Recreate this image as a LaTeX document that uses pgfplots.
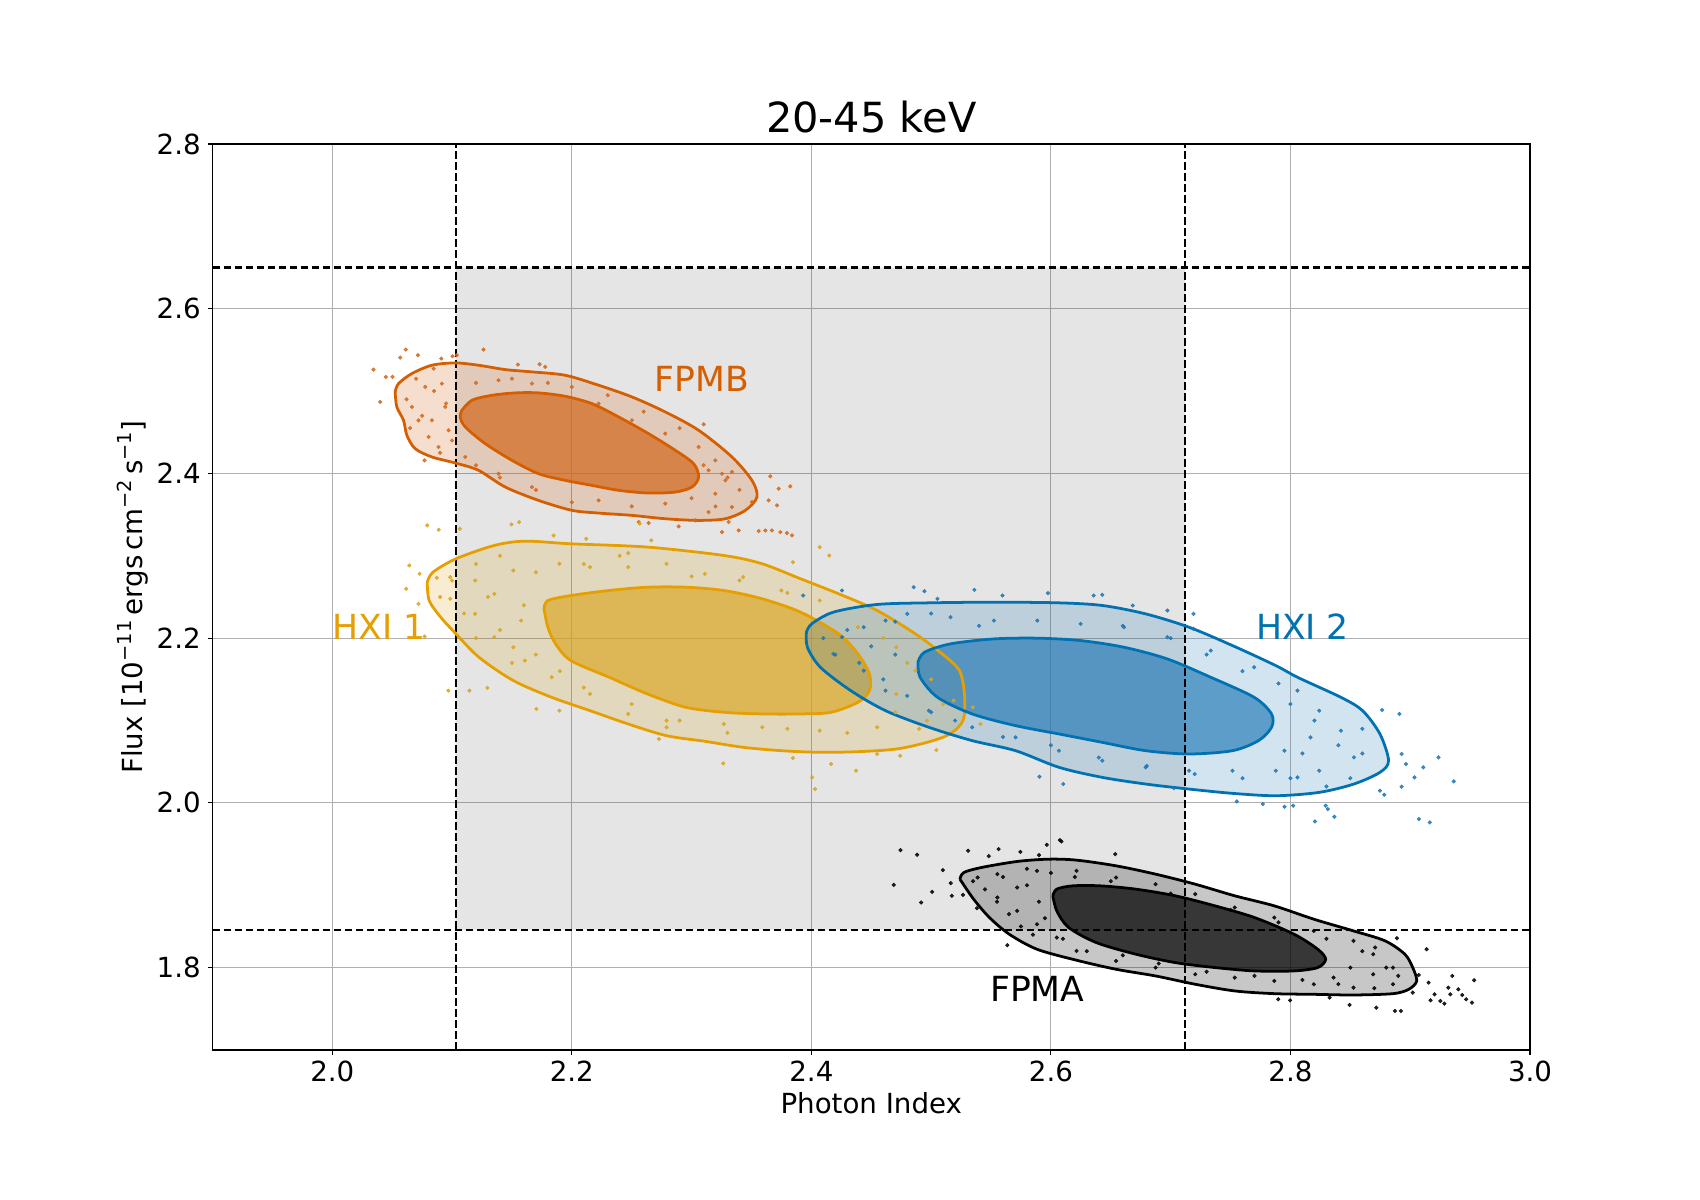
\documentclass[border=0pt]{standalone}
\usepackage{fontspec}
\setmainfont{DejaVu Sans}
\usepackage{pgfplots}
\usepackage{pgfplotstable}
\pgfplotsset{compat=1.18}
\definecolor{cFPMB}{HTML}{D55E00}
\definecolor{cHXIa}{HTML}{E69F00}
\definecolor{cHXIb}{HTML}{0072B2}
\definecolor{sFPMB}{HTML}{D2691E}
\definecolor{sHXIa}{HTML}{DAA520}
\definecolor{sHXIb}{HTML}{1F77B4}
\definecolor{gridgray}{HTML}{B0B0B0}

% ---------------- FPMB ----------------
\pgfplotstableread{
x y
2.0525 2.4990
2.0553 2.5091
2.0665 2.5213
2.0832 2.5314
2.1027 2.5342
2.1221 2.5314
2.1444 2.5261
2.1667 2.5233
2.1945 2.5192
2.2224 2.5071
2.2502 2.4929
2.2780 2.4747
2.3059 2.4524
2.3337 2.4200
2.3504 2.3916
2.3546 2.3714
2.3449 2.3552
2.3282 2.3450
2.3059 2.3430
2.2780 2.3450
2.2502 2.3491
2.2224 2.3519
2.2001 2.3552
2.1722 2.3673
2.1444 2.3835
2.1221 2.4038
2.1027 2.4127
2.0832 2.4200
2.0692 2.4301
2.0623 2.4463
2.0595 2.4645
2.0539 2.4808
2.0525 2.4990
}\fpmbOuter
\pgfplotstableread{
x y
2.1082 2.4767
2.1166 2.4889
2.1333 2.4949
2.1528 2.4978
2.1722 2.4978
2.1945 2.4937
2.2168 2.4848
2.2391 2.4686
2.2641 2.4483
2.2864 2.4281
2.3017 2.4119
2.3059 2.3957
2.3003 2.3835
2.2864 2.3774
2.2641 2.3762
2.2391 2.3795
2.2168 2.3855
2.1945 2.3916
2.1722 2.3997
2.1500 2.4159
2.1277 2.4362
2.1110 2.4564
2.1068 2.4686
2.1082 2.4767
}\fpmbInner
\pgfplotstableread{
x y
2.0344 2.5261
2.0400 2.4868
2.0447 2.5172
2.0503 2.5172
2.0567 2.5407
2.0614 2.5504
2.0715 2.5436
2.0770 2.4159
2.0846 2.5273
2.0910 2.5395
2.1004 2.5423
2.1040 2.5436
2.1263 2.5504
2.1550 2.5322
2.1731 2.5326
2.1778 2.5294
2.3101 2.4597
2.3142 2.4038
2.3254 2.3997
2.3337 2.4018
2.3657 2.3965
2.3727 2.3815
2.3824 2.3843
2.3309 2.3410
2.3393 2.3308
2.3254 2.3288
2.3560 2.3300
2.3616 2.3308
2.3671 2.3308
2.3741 2.3288
2.3796 2.3276
2.3838 2.3248
2.2558 2.3410
2.2641 2.3398
2.2892 2.3357
2.3031 2.3430
2.3142 2.3531
2.3337 2.3592
2.3504 2.3653
2.3643 2.3673
2.3713 2.3612
2.0665 2.4808
2.0720 2.4645
2.0804 2.4443
2.0887 2.4321
2.0943 2.4808
2.0915 2.5091
2.0776 2.5051
2.0832 2.4645
2.0971 2.4524
2.1388 2.5132
2.1667 2.5091
2.2224 2.4848
2.2502 2.4645
2.2780 2.4483
2.3059 2.4321
2.3198 2.4159
2.3282 2.3916
2.3198 2.3754
2.2780 2.3633
2.2224 2.3673
2.1667 2.3835
2.1388 2.3997
2.1110 2.4200
2.062 2.490
2.070 2.515
2.085 2.500
2.095 2.485
2.100 2.440
2.090 2.425
2.075 2.470
2.065 2.455
2.120 2.510
2.150 2.515
2.180 2.510
2.200 2.505
2.230 2.495
2.260 2.475
2.290 2.455
2.310 2.410
2.330 2.395
2.340 2.380
2.320 2.360
2.300 2.370
2.250 2.360
2.200 2.365
2.170 2.380
2.140 2.395
2.120 2.410
}\fpmbDots

% ---------------- HXI 1 ----------------
\pgfplotstableread{
x y
2.0793 2.2680
2.0841 2.2802
2.1033 2.2964
2.1353 2.3126
2.1608 2.3178
2.1992 2.3146
2.2631 2.3106
2.3270 2.3004
2.3590 2.2903
2.3910 2.2721
2.4229 2.2538
2.4549 2.2336
2.4869 2.2052
2.5092 2.1809
2.5236 2.1607
2.5278 2.1323
2.5268 2.1009
2.5157 2.0837
2.4965 2.0735
2.4709 2.0654
2.4389 2.0622
2.4070 2.0614
2.3750 2.0634
2.3430 2.0675
2.3111 2.0748
2.2791 2.0816
2.2471 2.0958
2.2152 2.1120
2.1832 2.1282
2.1512 2.1485
2.1225 2.1768
2.1033 2.2052
2.0905 2.2255
2.0809 2.2457
2.0793 2.2680
}\hxiaOuter
\pgfplotstableread{
x y
2.1768 2.2356
2.1800 2.2457
2.1992 2.2518
2.2311 2.2579
2.2631 2.2619
2.2951 2.2619
2.3270 2.2579
2.3590 2.2478
2.3910 2.2316
2.4229 2.2052
2.4389 2.1809
2.4485 2.1566
2.4485 2.1364
2.4389 2.1222
2.4165 2.1100
2.3910 2.1080
2.3590 2.1080
2.3270 2.1100
2.2951 2.1161
2.2631 2.1323
2.2311 2.1526
2.1992 2.1728
2.1864 2.1931
2.1800 2.2133
2.1768 2.2356
}\hxiaInner
\pgfplotstableread{
x y
2.0617 2.2599
2.0643 2.2883
2.0729 2.2781
2.0720 2.2417
2.0771 2.2020
2.0873 2.2733
2.0889 2.3316
2.0793 2.3369
2.0985 2.2741
2.0985 2.2478
2.0969 2.1363
2.1065 2.3328
2.1145 2.1363
2.1295 2.1396
2.1496 2.3381
2.1560 2.3409
2.1848 2.3247
2.2120 2.3207
2.2471 2.3033
2.2567 2.3389
2.2663 2.3187
2.4070 2.3106
2.4149 2.3004
2.3846 2.2923
2.3264 2.0480
2.3846 2.0545
2.4006 2.0310
2.4031 2.0168
2.4165 2.0472
2.4373 2.0391
2.4549 2.0594
2.4741 2.0573
2.5044 2.0642
2.5412 2.0958
2.5348 2.1161
2.5188 2.1242
2.2727 2.0776
2.1896 2.1120
2.1704 2.1141
2.1193 2.2700
2.1353 2.2538
2.1512 2.2822
2.1576 2.2214
2.1353 2.2012
2.1193 2.2295
2.1608 2.1728
2.1512 2.1890
2.1896 2.2903
2.2152 2.2863
2.2471 2.2863
2.2791 2.2903
2.3111 2.2781
2.3430 2.2741
2.3750 2.2579
2.4070 2.2457
2.4389 2.2133
2.4709 2.1890
2.4869 2.1607
2.4709 2.1323
2.4965 2.0999
2.4549 2.0918
2.4070 2.0877
2.3590 2.0918
2.3270 2.0958
2.2791 2.0999
2.2471 2.1080
2.2152 2.1323
2.1832 2.1526
2.2791 2.0918
2.090 2.250
2.100 2.270
2.110 2.230
2.120 2.200
2.130 2.250
2.140 2.210
2.150 2.170
2.160 2.240
2.170 2.180
2.120 2.290
2.140 2.300
2.170 2.280
2.210 2.290
2.240 2.300
2.300 2.275
2.340 2.270
2.380 2.255
2.460 2.200
2.480 2.170
2.500 2.150
2.510 2.120
2.470 2.110
2.490 2.090
2.430 2.085
2.380 2.090
2.330 2.085
2.290 2.100
2.250 2.120
2.210 2.140
2.190 2.160
}\hxiaDots

% ---------------- HXI 2 ----------------
\pgfplotstableread{
x y
2.3959 2.2072
2.4003 2.2174
2.4184 2.2316
2.4546 2.2409
2.4981 2.2429
2.5524 2.2437
2.6067 2.2429
2.6429 2.2397
2.6791 2.2295
2.7153 2.2133
2.7516 2.1910
2.7878 2.1667
2.8059 2.1525
2.8421 2.1282
2.8602 2.1120
2.8747 2.0837
2.8819 2.0513
2.8747 2.0371
2.8529 2.0229
2.8240 2.0128
2.7878 2.0087
2.7516 2.0116
2.7153 2.0168
2.6791 2.0229
2.6429 2.0310
2.6067 2.0432
2.5705 2.0634
2.5343 2.0756
2.4981 2.0918
2.4619 2.1120
2.4329 2.1363
2.4075 2.1647
2.3967 2.1890
2.3959 2.2072
}\hxibOuter
\pgfplotstableread{
x y
2.4890 2.1708
2.4944 2.1829
2.5162 2.1931
2.5524 2.1991
2.5886 2.2000
2.6248 2.1971
2.6610 2.1890
2.6972 2.1748
2.7335 2.1525
2.7697 2.1282
2.7842 2.1080
2.7842 2.0918
2.7733 2.0756
2.7516 2.0634
2.7153 2.0594
2.6791 2.0634
2.6429 2.0735
2.6067 2.0837
2.5705 2.0938
2.5343 2.1080
2.5053 2.1282
2.4908 2.1525
2.4890 2.1708
}\hxibInner
\pgfplotstableread{
x y
2.3931 2.2518
2.4256 2.2579
2.4854 2.2619
2.4944 2.2571
2.5053 2.2478
2.5361 2.2587
2.5596 2.2518
2.5976 2.2547
2.6357 2.2518
2.6429 2.2526
2.6683 2.2397
2.6972 2.2336
2.7190 2.2295
2.7190 2.2113
2.8910 2.1080
2.8765 2.1128
2.8928 2.0594
2.8964 2.0472
2.9109 2.0432
2.9236 2.0553
2.9363 2.0261
2.9036 2.0310
2.8928 2.0197
2.8747 2.0148
2.8783 2.0099
2.7552 2.0018
2.7769 1.9986
2.7950 1.9953
2.8023 1.9966
2.8204 1.9775
2.8294 1.9966
2.8312 1.9925
2.8367 1.9832
2.9073 1.9804
2.9163 1.9763
2.6103 2.0229
2.5904 2.0318
2.7027 2.0180
2.4256 2.2012
2.4437 2.2133
2.4619 2.2214
2.4800 2.2295
2.5162 2.2255
2.5524 2.2214
2.5886 2.2214
2.6248 2.2174
2.6610 2.2133
2.6972 2.2012
2.7335 2.1850
2.7697 2.1647
2.8059 2.1363
2.8240 2.1120
2.8421 2.0877
2.8530 2.0553
2.8240 2.0391
2.8059 2.0310
2.7878 2.0391
2.7516 2.0391
2.7153 2.0391
2.6791 2.0432
2.6429 2.0513
2.6067 2.0634
2.5705 2.0796
2.5343 2.0918
2.4981 2.1120
2.4619 2.1363
2.4437 2.1606
2.4184 2.1809
2.8167 2.0796
2.7950 2.0634
2.410 2.200
2.420 2.180
2.430 2.210
2.440 2.170
2.450 2.190
2.460 2.150
2.470 2.180
2.480 2.130
2.470 2.220
2.500 2.230
2.540 2.215
2.660 2.215
2.700 2.200
2.730 2.180
2.760 2.160
2.790 2.145
2.800 2.120
2.820 2.100
2.840 2.070
2.860 2.060
2.850 2.030
2.830 2.020
2.800 2.030
2.860 2.090
2.810 2.060
2.760 2.030
2.720 2.035
2.680 2.045
2.640 2.055
2.600 2.070
2.560 2.080
2.520 2.100
2.500 2.110
}\hxibDots

% ---------------- FPMA ----------------
\pgfplotstableread{
x y
2.5240 1.9074
2.5273 1.9155
2.5421 1.9216
2.5718 1.9289
2.5983 1.9317
2.6214 1.9305
2.6544 1.9236
2.6874 1.9135
2.7205 1.9013
2.7535 1.8872
2.7865 1.8750
2.8195 1.8588
2.8526 1.8446
2.8790 1.8325
2.8955 1.8163
2.9021 1.8000
2.9054 1.7838
2.8988 1.7737
2.8856 1.7684
2.8526 1.7668
2.8195 1.7676
2.7865 1.7684
2.7535 1.7717
2.7205 1.7798
2.6874 1.7899
2.6544 1.7980
2.6214 1.8090
2.5884 1.8223
2.5652 1.8406
2.5487 1.8608
2.5355 1.8831
2.5240 1.9074
}\fpmaOuter
\pgfplotstableread{
x y
2.6016 1.8872
2.6049 1.8953
2.6181 1.8993
2.6412 1.8993
2.6709 1.8953
2.7039 1.8872
2.7370 1.8750
2.7700 1.8608
2.8030 1.8406
2.8228 1.8223
2.8294 1.8102
2.8228 1.8001
2.8030 1.7960
2.7700 1.7960
2.7370 1.8001
2.7039 1.8061
2.6709 1.8163
2.6379 1.8304
2.6148 1.8487
2.6049 1.8689
2.6016 1.8872
}\fpmaInner
\pgfplotstableread{
x y
2.4688 1.9005
2.4744 1.9427
2.4883 1.9370
2.4916 1.8791
2.5008 1.8920
2.5098 1.9184
2.5164 1.9026
2.5173 1.8872
2.5266 1.8884
2.5309 1.9419
2.5382 1.8722
2.5481 1.9354
2.5563 1.9439
2.5636 1.8272
2.5745 1.9406
2.5900 1.9366
2.5966 1.9491
2.6075 1.9548
2.6088 1.9532
2.6537 1.9378
2.8707 1.8244
2.8889 1.8357
2.9137 1.8223
2.9153 1.7818
2.9071 1.7911
2.9203 1.7676
2.9318 1.7757
2.9335 1.7676
2.9401 1.7737
2.9434 1.7668
2.9533 1.7847
2.9516 1.7575
2.9467 1.7616
2.9252 1.7595
2.9170 1.7603
2.9285 1.7563
2.8493 1.7547
2.8717 1.7514
2.8872 1.7474
2.8922 1.7474
2.8327 1.7636
2.7898 1.7616
2.7997 1.7603
2.9021 1.7696
2.9351 1.7899
2.5388 1.9094
2.5553 1.9135
2.5718 1.8973
2.5553 1.8851
2.5718 1.8689
2.5884 1.8527
2.5884 1.9175
2.6214 1.9175
2.6544 1.9094
2.6874 1.9013
2.7205 1.8892
2.7535 1.8730
2.7865 1.8608
2.8195 1.8446
2.8526 1.8325
2.8691 1.8163
2.8856 1.8000
2.8856 1.7798
2.8526 1.7757
2.8195 1.7798
2.7865 1.7838
2.7535 1.7879
2.7205 1.7919
2.6874 1.8000
2.6544 1.8081
2.6214 1.8203
2.6049 1.8365
2.8360 1.7879
2.8691 1.7919
2.535 1.905
2.545 1.895
2.555 1.880
2.565 1.865
2.575 1.850
2.585 1.840
2.560 1.910
2.580 1.900
2.590 1.880
2.595 1.860
2.580 1.920
2.600 1.915
2.620 1.910
2.650 1.905
2.700 1.890
2.750 1.870
2.790 1.855
2.830 1.835
2.860 1.820
2.880 1.800
2.890 1.790
2.870 1.775
2.840 1.780
2.850 1.800
2.810 1.785
2.770 1.790
2.730 1.795
2.690 1.805
2.660 1.815
2.630 1.820
2.610 1.835
}\fpmaDots

\begin{document}
\begin{tikzpicture}
\path[use as bounding box] (-2.125in,-1.5in) rectangle (14.875in,10.5in);
\begin{axis}[
  at={(0,0)}, anchor=south west,
  scale only axis, width=13.175in, height=9.06in,
  xmin=1.9, xmax=3.0, ymin=1.7, ymax=2.8,
  xtick={2.0,2.2,2.4,2.6,2.8,3.0},
  ytick={1.8,2.0,2.2,2.4,2.6,2.8},
  grid=major,
  major grid style={line width=0.8pt, color=gridgray},
  tick align=outside, tick pos=left,
  major tick length=0.049in,
  every tick/.style={black, line width=0.8pt},
  axis line style={line width=0.8pt},
  tick label style={font=\fontsize{20}{24}\selectfont,
    /pgf/number format/assume math mode=true,
    /pgf/number format/fixed, /pgf/number format/fixed zerofill,
    /pgf/number format/precision=1},
  xticklabel style={anchor=base, inner sep=0pt, yshift=-0.262in},
  yticklabel style={anchor=east, inner sep=0pt, xshift=-0.066in},
  xlabel={Photon Index},
  ylabel={Flux [10\textsuperscript{−11}\,ergs\,cm\textsuperscript{−2}\,s\textsuperscript{−1}]},
  label style={font=\fontsize{20}{24}\selectfont},
  xlabel style={at={(axis description cs:0.5,-0.0699)}, anchor=base, inner sep=0pt},
  ylabel style={at={(axis description cs:-0.0532,0.5)}, anchor=base, inner sep=0pt, rotate=0},
  title={20-45 keV},
  title style={at={(axis description cs:0.5,1.003)}, anchor=base, inner sep=0pt, yshift=0pt, font=\fontsize{30}{36}\selectfont},
  clip=true,
]
% shaded box
\addplot[draw=none, fill=black, fill opacity=0.1, mark=none] coordinates {(2.103,1.846) (2.712,1.846) (2.712,2.65) (2.103,2.65) (2.103,1.846)};

% clouds
\addplot[draw=none, fill=sFPMB, fill opacity=0.22, smooth, tension=0.5, mark=none] table {\fpmbOuter};
\addplot[draw=none, fill=sFPMB, fill opacity=0.72, smooth, tension=0.5, mark=none] table {\fpmbInner};
\addplot[only marks, mark=*, mark size=1.3pt, color=sFPMB, opacity=0.85] table {\fpmbDots};

\addplot[draw=none, fill=sHXIa, fill opacity=0.2, smooth, tension=0.5, mark=none] table {\hxiaOuter};
\addplot[draw=none, fill=sHXIa, fill opacity=0.65, smooth, tension=0.5, mark=none] table {\hxiaInner};
\addplot[only marks, mark=*, mark size=1.3pt, color=sHXIa, opacity=0.85] table {\hxiaDots};

\addplot[draw=none, fill=sHXIb, fill opacity=0.2, smooth, tension=0.5, mark=none] table {\hxibOuter};
\addplot[draw=none, fill=sHXIb, fill opacity=0.65, smooth, tension=0.5, mark=none] table {\hxibInner};
\addplot[only marks, mark=*, mark size=1.3pt, color=sHXIb, opacity=0.85] table {\hxibDots};

\addplot[draw=none, fill=black, fill opacity=0.22, smooth, tension=0.5, mark=none] table {\fpmaOuter};
\addplot[draw=none, fill=black, fill opacity=0.72, smooth, tension=0.5, mark=none] table {\fpmaInner};
\addplot[only marks, mark=*, mark size=1.3pt, color=black, opacity=0.85] table {\fpmaDots};

% dashed limits
\addplot[black, line width=1.5pt, dash pattern=on 5.55pt off 2.4pt, mark=none] coordinates {(2.103,1.7) (2.103,2.8)};
\addplot[black, line width=1.5pt, dash pattern=on 5.55pt off 2.4pt, mark=none] coordinates {(2.712,1.7) (2.712,2.8)};
\addplot[black, line width=1.5pt, dash pattern=on 5.55pt off 2.4pt, mark=none] coordinates {(1.9,2.65) (3.0,2.65)};
\addplot[black, line width=1.5pt, dash pattern=on 5.55pt off 2.4pt, mark=none] coordinates {(1.9,1.846) (3.0,1.846)};

% contours
\addplot[cFPMB, line width=2pt, smooth, tension=0.5, line join=round, mark=none] table {\fpmbOuter};
\addplot[cFPMB, line width=2pt, smooth, tension=0.5, line join=round, mark=none] table {\fpmbInner};
\addplot[cHXIa, line width=2pt, smooth, tension=0.5, line join=round, mark=none] table {\hxiaOuter};
\addplot[cHXIa, line width=2pt, smooth, tension=0.5, line join=round, mark=none] table {\hxiaInner};
\addplot[cHXIb, line width=2pt, smooth, tension=0.5, line join=round, mark=none] table {\hxibOuter};
\addplot[cHXIb, line width=2pt, smooth, tension=0.5, line join=round, mark=none] table {\hxibInner};
\addplot[black, line width=2pt, smooth, tension=0.5, line join=round, mark=none] table {\fpmaOuter};
\addplot[black, line width=2pt, smooth, tension=0.5, line join=round, mark=none] table {\fpmaInner};

% labels
\node[anchor=base west, inner sep=0pt, text=cFPMB, font=\fontsize{25}{30}\selectfont] at (axis cs:2.269,2.4998) {FPMB};
\node[anchor=base west, inner sep=0pt, text=cHXIa, font=\fontsize{25}{30}\selectfont] at (axis cs:2.0,2.198) {HXI 1};
\node[anchor=base west, inner sep=0pt, text=cHXIb, font=\fontsize{25}{30}\selectfont] at (axis cs:2.771,2.198) {HXI 2};
\node[anchor=base west, inner sep=0pt, text=black, font=\fontsize{25}{30}\selectfont] at (axis cs:2.549,1.759) {FPMA};
\end{axis}
\end{tikzpicture}
\end{document}
